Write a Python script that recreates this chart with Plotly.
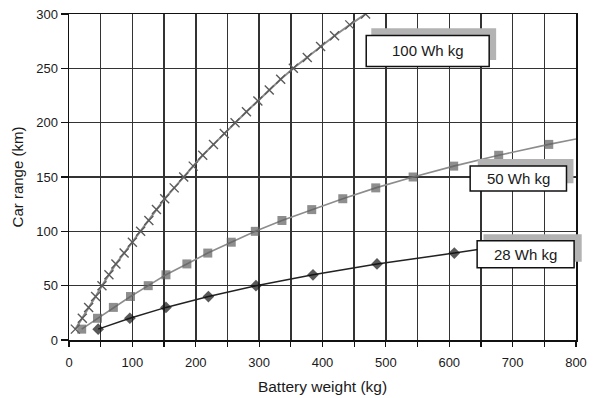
import plotly.graph_objects as go

# ---- data ----
cross_x = [10, 21, 31, 42, 52, 63, 74, 87, 100, 113, 126, 138, 151, 166, 181,
           196, 211, 228, 245, 262, 280, 298, 316, 334, 354, 376, 397, 419, 443, 468]
cross_y = [10, 20, 30, 40, 50, 60, 70, 80, 90, 100, 110, 120, 130, 140, 150,
           160, 170, 180, 190, 200, 210, 220, 230, 240, 250, 260, 270, 280, 290, 300]

square_x = [20, 45, 70, 97, 125, 153, 186, 219, 256, 294, 336, 383, 432, 484,
            543, 607, 678, 757, 800]
square_y = [10, 20, 30, 40, 50, 60, 70, 80, 90, 100, 110, 120, 130, 140,
            150, 160, 170, 180, 185]

diamond_x = [46, 96, 153, 220, 295, 385, 486, 608, 745]
diamond_y = [10, 20, 30, 40, 50, 60, 70, 80, 92]

labels = ["100 Wh kg", "50 Wh kg", "28 Wh kg"]
x_ticks = list(range(0, 801, 50))
x_ticktext = [str(v) if v % 100 == 0 else "" for v in x_ticks]
y_ticks = list(range(0, 301, 50))

FONT = "Liberation Sans, Arial, sans-serif"
XMAX, YMAX = 800, 300

fig = go.Figure()
fig.add_trace(go.Scatter(
    x=cross_x, y=cross_y, mode="lines+markers",
    line=dict(color="#8c8c8c", width=2),
    marker=dict(symbol="x-thin", size=9, color="#5a5a5a",
                line=dict(color="#5a5a5a", width=1.4)),
    showlegend=False, hoverinfo="skip"))
fig.add_trace(go.Scatter(
    x=square_x, y=square_y, mode="lines+markers",
    line=dict(color="#8c8c8c", width=1.6),
    marker=dict(symbol="square", size=[9] * (len(square_x) - 1) + [0],
                color="#5e5e5e", line=dict(width=0)),
    showlegend=False, hoverinfo="skip"))
fig.add_trace(go.Scatter(
    x=diamond_x, y=diamond_y, mode="lines+markers",
    line=dict(color="#222222", width=1.5),
    marker=dict(symbol="diamond", size=[9] * (len(diamond_x) - 1) + [0],
                color="#111111", line=dict(width=0)),
    showlegend=False, hoverinfo="skip"))

# label boxes (grey offset shadow + white bordered box), in data units -> paper
boxes = [
    ((477, 674, 257.7, 286.8), (469, 663, 251.7, 280.2), (566, 266)),
    ((645, 796, 144.2, 166.6), (633, 785, 137.1, 160.1), (709, 148.6)),
    ((654, 809, 72.1, 97.3), (644, 797, 66.5, 91.4), (720.5, 79)),
]
shapes = []
annotations = []
for (sh, bx, tc), lab in zip(boxes, labels):
    shapes.append(dict(type="rect", xref="paper", yref="paper", layer="above",
                       x0=sh[0] / XMAX, x1=sh[1] / XMAX, y0=sh[2] / YMAX, y1=sh[3] / YMAX,
                       fillcolor="#b3b3b3", line=dict(width=0)))
    shapes.append(dict(type="rect", xref="paper", yref="paper", layer="above",
                       x0=bx[0] / XMAX, x1=bx[1] / XMAX, y0=bx[2] / YMAX, y1=bx[3] / YMAX,
                       fillcolor="white", line=dict(color="#111111", width=1.5)))
    annotations.append(dict(x=tc[0], y=tc[1], xref="x", yref="y", text=lab,
                            showarrow=False, font=dict(family=FONT, size=15, color="#1a1a1a")))

fig.update_layout(
    width=593, height=398,
    margin=dict(l=69, r=17, t=14, b=58, autoexpand=False),
    paper_bgcolor="white", plot_bgcolor="white",
    font=dict(family=FONT, size=13, color="#1a1a1a"),
    shapes=shapes, annotations=annotations,
    xaxis=dict(range=[0, XMAX], tickmode="array", tickvals=x_ticks, ticktext=x_ticktext,
               automargin=False,
               showgrid=True, gridcolor="#333", gridwidth=1.5,
               showline=True, linecolor="#111", linewidth=1.5, mirror=True,
               ticks="outside", ticklen=5, tickcolor="#111", tickwidth=1.2,
               ticklabelstandoff=5,
               zeroline=False,
               title=dict(text="Battery weight (kg)", font=dict(family=FONT, size=15.5),
                          standoff=12)),
    yaxis=dict(range=[0, YMAX], tickmode="array", tickvals=y_ticks,
               automargin=False,
               showgrid=True, gridcolor="#333", gridwidth=1.5,
               showline=True, linecolor="#111", linewidth=1.5, mirror=True,
               ticks="outside", ticklen=7, tickcolor="#111", tickwidth=1.2,
               zeroline=False,
               title=dict(text="Car range (km)", font=dict(family=FONT, size=15),
                          standoff=9)),
)

# remove the default 8px page margin so the 593x398 figure fills the window
fig.write_html("out.html", config={"displayModeBar": False, "staticPlot": True},
               post_script="document.body.style.margin='0';document.body.style.padding='0';")
